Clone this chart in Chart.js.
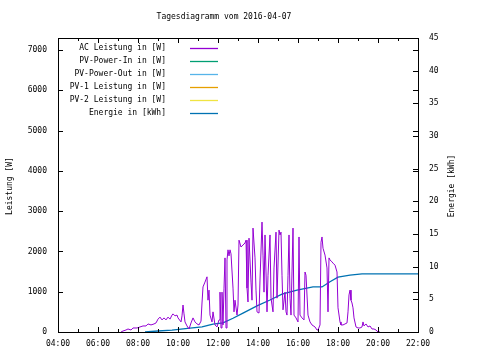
<!DOCTYPE html>
<html>
<head>
<meta charset="utf-8">
<script src="https://cdn.jsdelivr.net/npm/chart.js@4.4.1/dist/chart.umd.min.js"></script>
<style>
  body { margin: 0; background: #fff; }
  canvas { display: block; }
</style>
</head>
<body>
<canvas id="chart" width="480" height="360"></canvas>
<script>
const chartTitle = "Tagesdiagramm vom 2016-04-07";
const seriesNames = ["AC Leistung in [W]", "PV-Power-In in [W]", "PV-Power-Out in [W]", "PV-1 Leistung in [W]", "PV-2 Leistung in [W]", "Energie in [kWh]"];
const seriesColors = ["#9400d3", "#009e73", "#56b4e9", "#e69f00", "#f0e442", "#0072b2"];

// AC Leistung, time in decimal hours
const acHours = [7.15, 7.25, 7.4, 7.5, 7.65, 7.75, 7.95, 8.1, 8.25, 8.4, 8.5, 8.65, 8.8, 8.9, 9.0, 9.1, 9.2, 9.3, 9.4, 9.5, 9.6, 9.7, 9.75, 9.85, 9.95,
  10.0, 10.15, 10.2, 10.25, 10.3, 10.35, 10.45, 10.55, 10.65, 10.75, 10.85, 10.95, 11.05, 11.15, 11.2, 11.25, 11.35, 11.45, 11.5, 11.55, 11.6, 11.7, 11.75, 11.85, 11.95,
  12.05, 12.1, 12.15, 12.2, 12.25, 12.3, 12.35, 12.4, 12.45, 12.5, 12.55, 12.6, 12.65, 12.75, 12.8, 12.85, 12.95, 13.0, 13.05, 13.15, 13.25, 13.35, 13.4, 13.45, 13.5, 13.55, 13.65, 13.7, 13.75, 13.85, 13.9, 13.95,
  14.05, 14.1, 14.2, 14.25, 14.3, 14.35, 14.4, 14.45, 14.5, 14.6, 14.65, 14.75, 14.8, 14.9, 14.95, 15.05, 15.1, 15.15, 15.2, 15.25, 15.35, 15.4, 15.45, 15.5, 15.55, 15.6, 15.65, 15.7, 15.75, 15.8, 15.9,
  16.0, 16.05, 16.1, 16.2, 16.3, 16.35, 16.4, 16.5, 16.6, 16.7, 16.85, 16.95, 17.0, 17.1, 17.15, 17.2, 17.25, 17.35, 17.45, 17.5, 17.55, 17.6, 17.7, 17.75, 17.85, 17.95,
  18.0, 18.1, 18.15, 18.25, 18.35, 18.45, 18.5, 18.55, 18.6, 18.65, 18.7, 18.75, 18.8, 18.9, 19.0, 19.1, 19.2, 19.25, 19.3, 19.4, 19.5, 19.6, 19.7, 19.8, 19.9, 20.0, 20.1];
const acWatt = [0, 25, 50, 75, 50, 100, 100, 125, 150, 150, 200, 175, 200, 225, 320, 370, 300, 350, 300, 370, 320, 420, 450, 400, 420,
  350, 250, 400, 670, 450, 250, 150, 75, 225, 350, 250, 200, 175, 270, 720, 1120, 1240, 1370, 790, 1040, 420, 250, 500, 175, 125,
  300, 990, 100, 990, 175, 1090, 1840, 100, 1790, 2040, 1890, 2040, 1940, 1090, 500, 790, 420, 670, 2280, 2110, 2160, 2210, 2280, 1090, 745, 2330, 1240, 790, 2580, 1840, 1040, 500,
  470, 1290, 2730, 1910, 990, 2410, 1490, 500, 1410, 2410, 840, 500, 1590, 2480, 840, 2530, 2410, 2480, 1410, 550, 990, 500, 420, 1410, 2410, 840, 420, 1490, 2580, 420, 350,
  250, 2360, 420, 350, 300, 1490, 1410, 420, 250, 175, 125, 50, 50, 175, 2230, 2360, 2080, 1910, 1590, 500, 1840, 1790, 1740, 1710, 1660, 1490,
  600, 250, 175, 175, 200, 225, 500, 920, 1040, 790, 720, 600, 350, 125, 100, 100, 125, 250, 150, 200, 125, 150, 75, 75, 50, 0, 0];

// Energie, time in decimal hours
const energyHours = [8.35, 9.0, 9.7, 10.6, 11.2, 11.75, 12.25, 12.75, 13.25, 13.95, 14.6, 15.2, 15.95, 16.75, 17.2, 17.6, 18.0, 18.6, 19.2, 22.0];
const energyKwh = [0, 0.15, 0.3, 0.6, 0.8, 1.2, 1.4, 2.1, 2.9, 4.0, 4.9, 5.8, 6.4, 6.9, 6.9, 7.7, 8.4, 8.7, 8.9, 8.9];

const xTicks = [4, 6, 8, 10, 12, 14, 16, 18, 20, 22];
const powerTicks = [0, 1000, 2000, 3000, 4000, 5000, 6000, 7000];
const energyTicks = [0, 5, 10, 15, 20, 25, 30, 35, 40, 45];

const FONT = "DejaVu Sans Mono";

function pts(xs, ys) { return xs.map((x, i) => ({ x: x, y: ys[i] })); }
function hh(v) { return (v < 10 ? "0" : "") + v + ":00"; }

const gnuFrame = {
  id: "gnuFrame",
  afterDraw(chart) {
    const ctx = chart.ctx, a = chart.chartArea;
    const sx = chart.scales.x, sy = chart.scales.y, sy2 = chart.scales.y2;
    ctx.save();
    ctx.strokeStyle = "#000";
    ctx.lineWidth = 1;
    ctx.strokeRect(Math.round(a.left) + 0.5, Math.round(a.top) + 0.5, Math.round(a.right - a.left), Math.round(a.bottom - a.top));
    ctx.beginPath();
    for (let h = 4; h <= 22; h++) {
      const px = Math.round(sx.getPixelForValue(h)) + 0.5;
      const len = h % 2 === 0 ? 5 : 3;
      ctx.moveTo(px, a.bottom); ctx.lineTo(px, a.bottom - len);
      ctx.moveTo(px, a.top); ctx.lineTo(px, a.top + len);
    }
    powerTicks.forEach(v => {
      const py = Math.round(sy.getPixelForValue(v)) + 0.5;
      ctx.moveTo(a.left, py); ctx.lineTo(a.left + 5, py);
      ctx.moveTo(a.right, py); ctx.lineTo(a.right - 5, py);
    });
    energyTicks.forEach(v => {
      const py = Math.round(sy2.getPixelForValue(v)) + 0.5;
      ctx.moveTo(a.right, py); ctx.lineTo(a.right - 5, py);
    });
    ctx.stroke();

    ctx.fillStyle = "#000";
    ctx.font = "8px '" + FONT + "'";
    ctx.textAlign = "center";
    ctx.textBaseline = "middle";
    ctx.fillText(chartTitle, 224, 17);

    ctx.save();
    ctx.translate(10, 186);
    ctx.rotate(-Math.PI / 2);
    ctx.fillText("Leistung [W]", 0, 0);
    ctx.restore();
    ctx.save();
    ctx.translate(452, 186);
    ctx.rotate(-Math.PI / 2);
    ctx.fillText("Energie [kWh]", 0, 0);
    ctx.restore();

    ctx.textAlign = "right";
    chart.data.datasets.forEach((ds, i) => {
      const y = 48 + i * 13;
      ctx.fillText(ds.label, 166, y);
      ctx.beginPath();
      ctx.strokeStyle = ds.borderColor;
      ctx.lineWidth = 1.3;
      ctx.moveTo(190, y + 0.5); ctx.lineTo(218, y + 0.5);
      ctx.stroke();
    });
    ctx.restore();
  }
};

const datasets = seriesNames.map((name, i) => ({
  label: name,
  data: [],
  borderColor: seriesColors[i],
  borderWidth: 1,
  pointRadius: 0,
  tension: 0,
  yAxisID: i === 5 ? "y2" : "y"
}));
datasets[0].data = pts(acHours, acWatt);
datasets[5].data = pts(energyHours, energyKwh);
datasets[5].borderWidth = 1.3;

const tickFont = { family: FONT, size: 8 };

new Chart(document.getElementById("chart").getContext("2d"), {
  type: "line",
  data: { datasets: datasets },
  options: {
    responsive: false,
    animation: false,
    layout: { padding: { top: 38, left: 0, right: 0, bottom: 0 } },
    plugins: { legend: { display: false }, title: { display: false }, tooltip: { enabled: false } },
    scales: {
      x: {
        type: "linear", min: 4, max: 22,
        grid: { display: false, drawTicks: false },
        border: { display: false },
        afterBuildTicks: s => { s.ticks = xTicks.map(v => ({ value: v })); },
        afterFit: s => { s.height = 28; },
        ticks: { font: tickFont, color: "#000", padding: 7, maxRotation: 0, autoSkip: false, callback: v => hh(v) }
      },
      y: {
        position: "left", min: 0, max: 7300,
        grid: { display: false, drawTicks: false },
        border: { display: false },
        afterBuildTicks: s => { s.ticks = powerTicks.map(v => ({ value: v })); },
        afterFit: s => { s.width = 58; },
        ticks: { font: tickFont, color: "#000", padding: 11, callback: v => String(v) }
      },
      y2: {
        position: "right", min: 0, max: 45,
        grid: { display: false, drawTicks: false },
        border: { display: false },
        afterBuildTicks: s => { s.ticks = energyTicks.map(v => ({ value: v })); },
        afterFit: s => { s.width = 62; },
        ticks: { font: tickFont, color: "#000", padding: 11, callback: v => String(v) }
      }
    }
  },
  plugins: [gnuFrame]
});
</script>
</body>
</html>
